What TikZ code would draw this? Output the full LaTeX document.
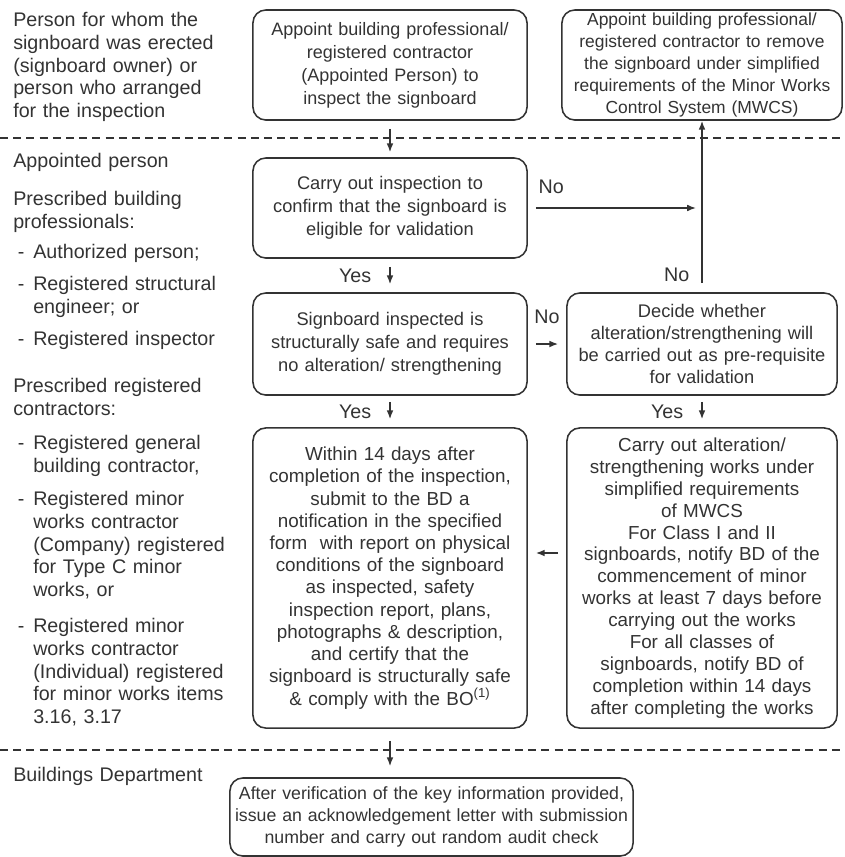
\documentclass[tikz,border=0pt]{standalone}
\usepackage{fontspec}
\setmainfont{Liberation Sans}
\usetikzlibrary{arrows.meta}
\definecolor{ink}{HTML}{333333}
\tikzset{
  >={Latex[length=0.22cm,width=0.17cm]},
  box/.style={draw=ink, line width=1.1pt, rounded corners=0.32cm, align=center, inner sep=0pt, text=ink},
  side/.style={anchor=north west, align=left, inner sep=0pt, text width=5.6cm, text=ink, font=\fontsize{14}{16.2}\selectfont},
  lbl/.style={inner sep=0pt, text=ink, font=\fontsize{14}{16}\selectfont},
  flow/.style={->, draw=ink, line width=1.1pt},
  divider/.style={draw=ink, line width=1.4pt, dash pattern=on 0.2cm off 0.13cm},
}
\newcommand{\dashitem}{\leavevmode\llap{-\hspace{0.22cm}}}
\begin{document}
\begin{tikzpicture}[x=0.025cm, y=-0.025cm]
\useasboundingbox (0,0) rectangle (844,857);
% roles on the left
\node[side] (owner) at (13,12) {Person for whom the\\signboard was erected\\(signboard owner) or\\person who arranged\\for the inspection};
\node[side] (apptitle) at (13,153) {Appointed person};
\node[side] (profs) at (13,191) {Prescribed building\\professionals:};
\node[side] (ap) at (33,244) {\dashitem Authorized person;};
\node[side] (rse) at (33,276) {\dashitem Registered structural\\engineer; or};
\node[side] (ri) at (33,331) {\dashitem Registered inspector};
\node[side] (contrs) at (13,378) {Prescribed registered\\contractors:};
\node[side] (rgbc) at (33,435) {\dashitem Registered general\\building contractor,};
\node[side] (rmwc) at (33,491) {\dashitem Registered minor\\works contractor\\(Company) registered\\for Type C minor\\works, or};
\node[side] (rmwi) at (33,618) {\dashitem Registered minor\\works contractor\\(Individual) registered\\for minor works items\\3.16, 3.17};
\node[side] (bd) at (13,767) {Buildings Department};
% dashed separators
\draw[divider] (0,138) -- (844,138);
\draw[divider] (0,750) -- (844,750);
% boxes
\node[box, minimum width=6.85cm, minimum height=2.75cm, text width=6.6cm, font=\fontsize{12.8}{16.3}\selectfont] (appoint) at (390,65)
  {Appoint building professional/\\registered contractor\\(Appointed Person) to\\inspect the signboard};
\node[box, minimum width=7cm, minimum height=2.75cm, text width=6.8cm, font=\fontsize{12.4}{15.6}\selectfont] (remove) at (702,65)
  {Appoint building professional/\\registered contractor to remove\\the signboard under simplified\\requirements of the Minor Works\\Control System (MWCS)};
\node[box, minimum width=6.85cm, minimum height=2.5cm, text width=6.6cm, font=\fontsize{13}{16.5}\selectfont] (inspect) at (390,208)
  {Carry out inspection to\\confirm that the signboard is\\eligible for validation};
\node[box, minimum width=6.85cm, minimum height=2.55cm, text width=6.6cm, font=\fontsize{13}{16.5}\selectfont] (safe) at (390,344)
  {Signboard inspected is\\structurally safe and requires\\no alteration/ strengthening};
\node[box, minimum width=6.75cm, minimum height=2.55cm, text width=6.6cm, font=\fontsize{13}{15.6}\selectfont] (decide) at (702,344)
  {Decide whether\\alteration/strengthening will\\be carried out as pre-requisite\\for validation};
\node[box, minimum width=6.85cm, minimum height=7.5cm, text width=6.6cm, font=\fontsize{13.4}{15.8}\selectfont] (notify) at (390,578)
  {Within 14 days after\\completion of the inspection,\\submit to the BD a\\notification in the specified\\form\ \ with report on physical\\conditions of the signboard\\as inspected, safety\\inspection report, plans,\\photographs \& description,\\and certify that the\\signboard is structurally safe\\\& comply with the BO\textsuperscript{(1)}};
\node[box, minimum width=6.75cm, minimum height=7.5cm, text width=6.6cm, font=\fontsize{13.4}{15.6}\selectfont] (works) at (702,578)
  {Carry out alteration/\\strengthening works under\\simplified requirements\\of MWCS\\For Class I and II\\signboards, notify BD of the\\commencement of minor\\works at least 7 days before\\carrying out the works\\For all classes of\\signboards, notify BD of\\completion within 14 days\\after completing the works};
\node[box, minimum width=10.075cm, minimum height=1.95cm, text width=9.9cm, font=\fontsize{12.6}{15.4}\selectfont] (audit) at (431.5,817)
  {After verification of the key information provided,\\issue an acknowledgement letter with submission\\number and carry out random audit check};
% connectors
\draw[flow, shorten <=0.2cm, shorten >=0.125cm] (appoint) -- (inspect);
\draw[flow, shorten <=0.2cm, shorten >=0.15cm] (inspect.east) -- (inspect.east -| remove.south)
  node[pos=0, anchor=south west, lbl, xshift=0.25cm, yshift=0.35cm] {No};
\draw[flow, shorten <=0.225cm] (decide.north) -- (remove.south) node[pos=0.1, left=0.3cm, lbl] {No};
\draw[flow, shorten <=0.2cm, shorten >=0.2cm] (inspect) -- node[left=0.45cm, lbl] {Yes} (safe);
\draw[flow, shorten <=0.2cm, shorten >=0.2cm] (safe) -- node[above=0.5cm, lbl] {No} (decide);
\draw[flow, shorten <=0.15cm, shorten >=0.2cm] (safe) -- node[left=0.45cm, lbl] {Yes} (notify);
\draw[flow, shorten <=0.15cm, shorten >=0.2cm] (decide) -- node[left=0.45cm, lbl] {Yes} (works);
\draw[flow, shorten <=0.2cm, shorten >=0.2cm] ([yshift=0.625cm]works.west) -- ([yshift=0.625cm]notify.east);
\draw[flow, shorten <=0.3cm, shorten >=0.275cm] (notify.south) -- (notify.south |- audit.north);
\end{tikzpicture}
\end{document}
